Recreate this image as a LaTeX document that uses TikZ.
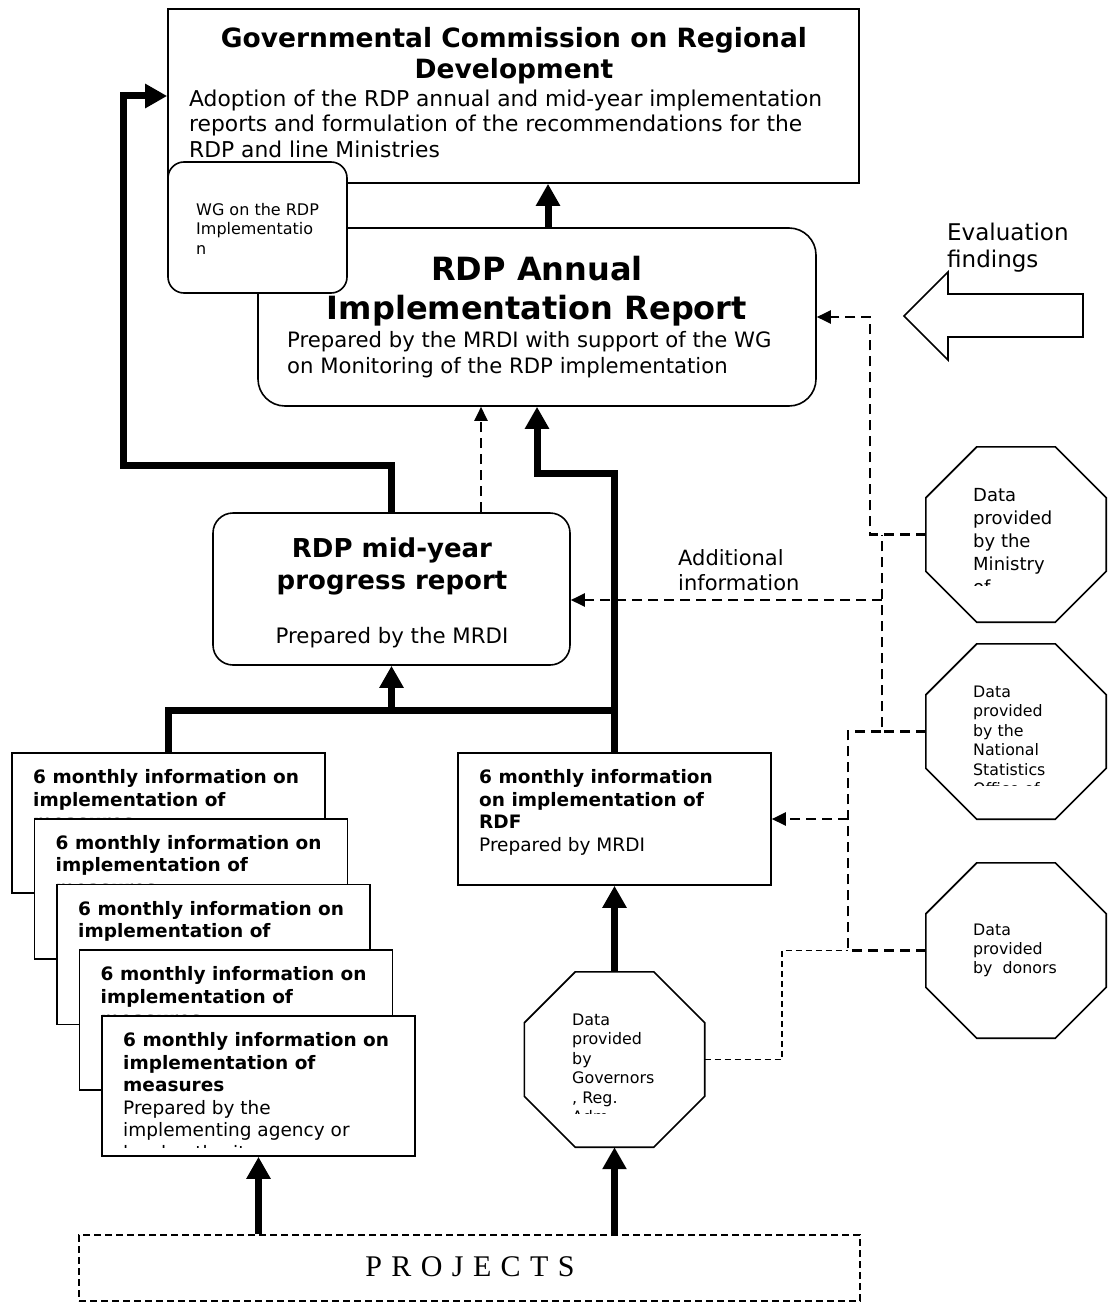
\documentclass[tikz,border=0pt]{standalone}
\usepackage{fontspec}
\setmainfont{DejaVu Sans}
\newfontfamily\projfont{Liberation Serif}
\usetikzlibrary{arrows.meta}
\newcommand\fsz[2]{\fontsize{#1}{#2}\selectfont}
\newcommand\lsp{\hspace{9.4pt}}
\newcommand\octo[3]{%
  \node[octbox] (#1) at (#2,#3) {};
  \draw[bline] ([xshift=51pt]#1.north west) -- ([xshift=-51pt]#1.north east)
    -- ([yshift=-51pt]#1.north east) -- ([yshift=51pt]#1.south east)
    -- ([xshift=-51pt]#1.south east) -- ([xshift=51pt]#1.south west)
    -- ([yshift=51pt]#1.south west) -- ([yshift=-51pt]#1.north west) -- cycle;}
\begin{document}
\begin{tikzpicture}[x=1pt,y=-1pt,
  bline/.style={line width=1.6pt, line join=miter},
  box/.style={draw, line width=1.6pt, fill=white, inner sep=0pt},
  octbox/.style={inner sep=0pt, minimum width=180pt, minimum height=175pt},
  thk/.style={line width=7pt, line join=miter},
  bigtip/.style={-{Triangle[length=22pt,width=23pt]}},
  dsh/.style={line width=2.4pt, dash pattern=on 10pt off 6pt},
  fdsh/.style={line width=1.5pt, dash pattern=on 6pt off 4pt},
  smtip/.style={-{Triangle[length=14pt,width=13pt]}},
  txt/.style={inner sep=0pt, anchor=north west, align=left},
  ctxt/.style={inner sep=0pt, anchor=north, align=center}]
\useasboundingbox (0,0) rectangle (1113,1311);
\fill[white] (0,0) rectangle (1113,1311);

% Governmental commission
\node[box, minimum width=691pt, minimum height=174pt] (gc) at (513.5,96) {};
\node[ctxt, font=\bfseries\fsz{26.5}{31}] (gct) at (514,25.3) {\strut Governmental Commission on Regional\\Development};
\node[txt, font=\fsz{21.8}{25.5}] (gcb) at (189,88.15) {\strut Adoption of the RDP annual and mid-year implementation\\reports and formulation of the recommendations for the\\RDP and line Ministries};

% Annual report
\node[box, rounded corners=27pt, minimum width=558pt, minimum height=178pt] (ann) at (537,317) {};
\node[ctxt, font=\bfseries\fsz{32}{39}] (annt) at (537,252.7) {\strut RDP Annual\\Implementation Report};
\node[txt, font=\fsz{21.2}{26}] (annb) at (287,328.8) {\strut Prepared by the MRDI with support of the WG\\on Monitoring of the RDP implementation};

% WG
\node[box, rounded corners=16pt, minimum width=179pt, minimum height=131pt] (wg) at (257.5,227.5) {};
\node[txt, font=\fsz{16}{19.5}] (wgt) at (196,201.35) {\strut WG on the RDP\\Implementatio\\n};

% Mid-year
\node[box, rounded corners=20pt, minimum width=357pt, minimum height=152pt] (mid) at (391.5,589) {};
\node[ctxt, font=\bfseries\fsz{26}{32}] (midt) at (392,534.6) {\strut RDP mid-year\\progress report};
\node[inner sep=0pt, anchor=base, font=\fsz{21.3}{25}] (midb) at (392,643) {Prepared by the MRDI};

% Evaluation findings
\node[txt, font=\fsz{23}{27}] (ev) at (947,221.1) {\strut Evaluation\\findings};
\draw[bline] (904,316) -- (948,272) -- (948,294) -- (1083,294) -- (1083,337) -- (948,337) -- (948,360) -- cycle;

% Additional information
\node[txt, font=\fsz{21}{25.7}] (add) at (678,547) {\strut Additional\\information};

% Octagons
\octo{o1}{1016}{534.5}
\begin{scope}
\clip (930,450) rectangle (1100,585);
\node[txt, font=\fsz{18}{22.8}] (o1t) at (973,485.7) {\strut Data\\provided\\by the\\Ministry\\of};
\end{scope}
\octo{o2}{1016}{731.5}
\begin{scope}
\clip (930,650) rectangle (1100,785);
\node[txt, font=\fsz{15.8}{19.4}] (o2t) at (973,683.7) {\strut Data\\provided\\by the\\National\\Statistics\\Office of};
\end{scope}
\octo{o3}{1016}{950.5}
\node[txt, font=\fsz{15.8}{19.2}] (o3t) at (973,921.6) {\strut Data\\provided\\by\ \ donors};
\octo{gov}{614.5}{1059.5}
\begin{scope}
\clip (530,980) rectangle (700,1113);
\node[txt, font=\fsz{15.9}{19.5}] (govt) at (572,1011.35) {\strut Data\\provided\\by\\Governors\\, Reg.\\Adm.};
\end{scope}

% RDF box
\node[box, minimum width=313pt, minimum height=132pt] (rdf) at (614.5,819) {};
\node[txt, font=\fsz{18.5}{22.6}] (rdft) at (479,767.5) {\strut\textbf{6 monthly information}\\\textbf{on implementation of}\\\textbf{RDF}\\Prepared by MRDI};

% stacked boxes
\node[box, minimum width=313pt, minimum height=140pt] (s1) at (168.5,823) {};
\node[txt, font=\bfseries\fsz{18.5}{22.6}] (s1t) at (33,767.5) {\strut 6 monthly information on\\implementation of\\measures};
\node[box, minimum width=313pt, minimum height=140pt] (s2) at (191,888.75) {};
\node[txt, font=\bfseries\fsz{18.5}{22.6}] (s2t) at (55.5,833.25) {\strut 6 monthly information on\\implementation of\\measures};
\node[box, minimum width=313pt, minimum height=140pt] (s3) at (213.5,954.5) {};
\node[txt, font=\bfseries\fsz{18.5}{22.6}] (s3t) at (78,899) {\strut 6 monthly information on\\implementation of\\measures};
\node[box, minimum width=313pt, minimum height=140pt] (s4) at (236,1020.25) {};
\node[txt, font=\bfseries\fsz{18.5}{22.6}] (s4t) at (100.5,964.75) {\strut 6 monthly information on\\implementation of\\measures};
\node[box, minimum width=313pt, minimum height=140pt] (s5) at (258.5,1086) {};
\begin{scope}
\clip (104,1018) rectangle (413,1147);
\node[txt, font=\fsz{18.5}{22.6}] (s5t) at (123,1030.5) {\strut\textbf{6 monthly information on}\\\textbf{implementation of}\\\textbf{measures}\\Prepared by the\\implementing agency or\\local authority};
\end{scope}

% Projects
\node[draw, line width=1.6pt, dash pattern=on 7pt off 4pt, inner sep=0pt, minimum width=781pt, minimum height=66pt] (proj) at (469.5,1268) {};
\node[inner sep=0pt, anchor=base, font=\projfont\fsz{30}{36}] (projt) at (470,1276) {P\lsp R\lsp O\lsp J\lsp E\lsp C\lsp T\lsp S};

% coordinates
\coordinate (x548) at (548,0);
\coordinate (x481) at (481,0);
\coordinate (bus) at (391.5,710);
\coordinate (j600) at (882,600);
\coordinate (j819) at (848,819);

% thick connectors
\draw[thk,bigtip] (mid.north) -- (391.5,465) -- (123,465) -- (123,96) -- (gc.west);
\draw[thk,bigtip] (rdf.north) -- (614.5,473) -- (537,473) -- (ann.south);
\draw[thk] (s1.north) -- (168.5,710) -- (614.5,710);
\draw[thk,bigtip] (bus) -- (mid.south);
\draw[thk,bigtip] (ann.north -| x548) -- (gc.south -| x548);
\draw[thk,bigtip] (gov.north) -- (rdf.south);
\draw[thk,bigtip] (proj.north -| s5.south) -- (s5.south);
\draw[thk,bigtip] (proj.north -| gov.south) -- (gov.south);

% dashed connectors
\draw[dsh,smtip] (mid.north -| x481) -- (ann.south -| x481);
\draw[dsh,smtip] (o1.west) -- (870,534.5) -- (870,317) -- (ann.east);
\draw[dsh] (o2.west) -- (882,731.5) -- (882,534.5);
\draw[dsh,smtip] (j600) -- (j600 -| mid.east);
\draw[dsh] (o3.west) -- (848,950.5) -- (848,731.5) -- (882,731.5);
\draw[dsh,smtip] (j819) -- (rdf.east);
\draw[fdsh] (gov.east) -- (782,1059.5) -- (782,950.5) -- (848,950.5);
\end{tikzpicture}
\end{document}
